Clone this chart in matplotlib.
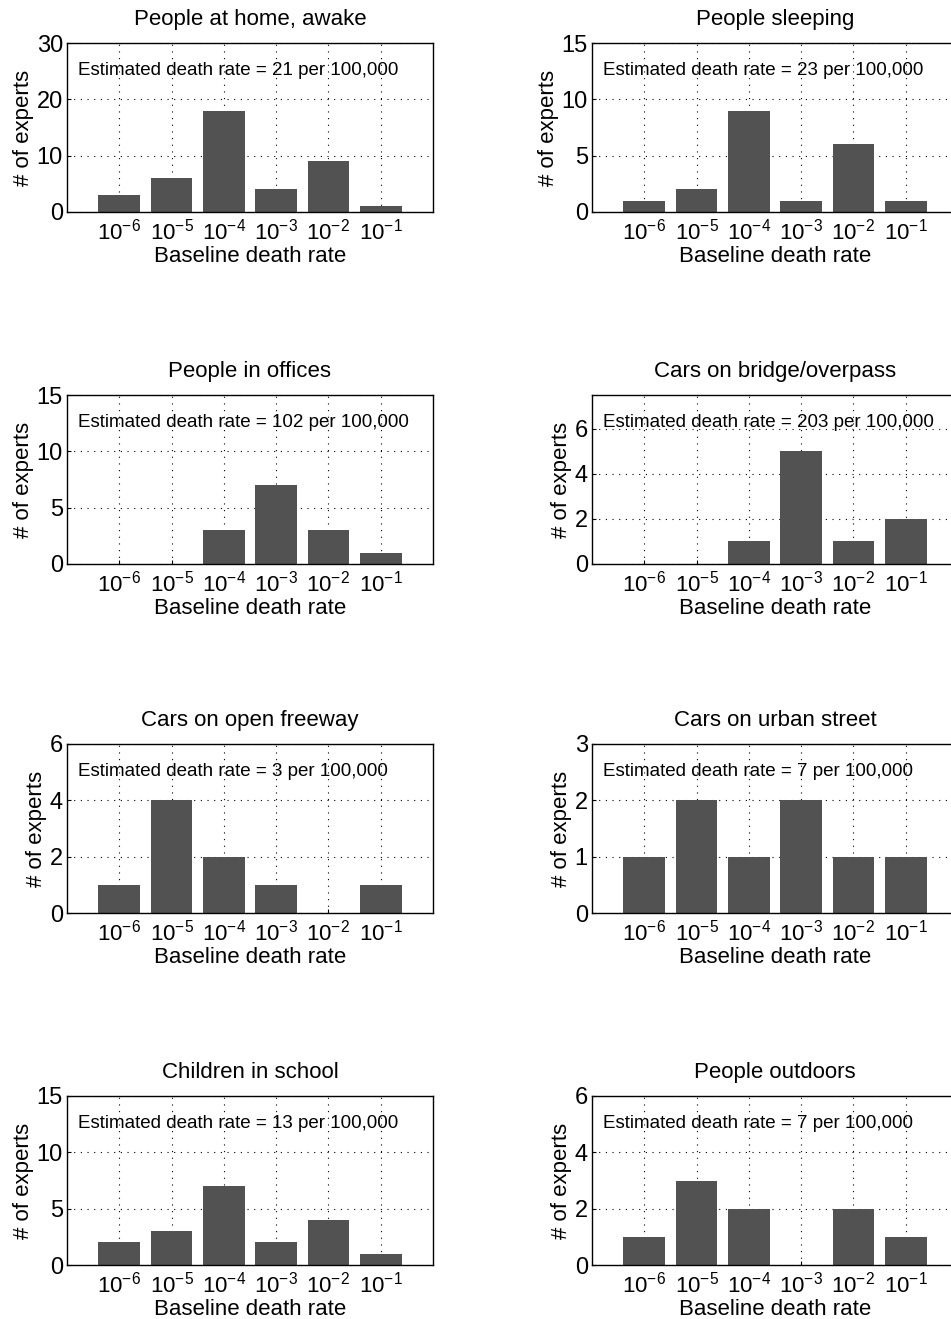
import matplotlib
matplotlib.use("Agg")
import matplotlib.pyplot as plt

plt.rcParams['font.family'] = ['Liberation Sans', 'DejaVu Sans']
plt.rcParams['mathtext.fontset'] = 'custom'
plt.rcParams['mathtext.rm'] = 'Liberation Sans'
plt.rcParams['mathtext.it'] = 'Liberation Sans:italic'
plt.rcParams['mathtext.bf'] = 'Liberation Sans:bold'

# data
titles = ["People at home, awake", "People sleeping",
          "People in offices", "Cars on bridge/overpass",
          "Cars on open freeway", "Cars on urban street",
          "Children in school", "People outdoors"]
rates = [21, 23, 102, 203, 3, 7, 13, 7]
home_awake = [3, 6, 18, 4, 9, 1]
sleeping = [1, 2, 9, 1, 6, 1]
offices = [0, 0, 3, 7, 3, 1]
bridge = [0, 0, 1, 5, 1, 2]
freeway = [1, 4, 2, 1, 0, 1]
urban = [1, 2, 1, 2, 1, 1]
school = [2, 3, 7, 2, 4, 1]
outdoors = [1, 3, 2, 0, 2, 1]
counts = [home_awake, sleeping, offices, bridge, freeway, urban, school, outdoors]
ymax = [30, 15, 15, 7.5, 6, 3, 15, 6]
yticks = [[0, 10, 20, 30], [0, 5, 10, 15], [0, 5, 10, 15], [0, 2, 4, 6],
          [0, 2, 4, 6], [0, 1, 2, 3], [0, 5, 10, 15], [0, 2, 4, 6]]
exponents = [-6, -5, -4, -3, -2, -1]
xlabels = [r"$\mathregular{10^{%d}}$" % e for e in exponents]

W, H = 951, 1319
fig = plt.figure(figsize=(W / 100, H / 100), dpi=100)

# axes boxes in pixels; right column runs past the edge like the scan
col_left = [67, 592]
ax_w = 366
row_top = [43, 395, 744, 1096]
ax_h = 169

xpos = list(range(1, len(exponents) + 1))
for i in range(8):
    r, c = divmod(i, 2)
    left = col_left[c] / W
    bottom = 1 - (row_top[r] + ax_h) / H
    ax = fig.add_axes([left, bottom, ax_w / W, ax_h / H])
    ax.bar(xpos, counts[i], width=0.8, color='#525252', zorder=3)
    ax.set_xlim(0, 7)
    ax.set_ylim(0, ymax[i])
    ax.set_xticks(xpos)
    ax.set_xticklabels(xlabels, fontsize=16)
    ax.set_yticks(yticks[i])
    ax.tick_params(axis='y', labelsize=17, pad=3)
    ax.tick_params(axis='x', pad=5)
    ax.tick_params(direction='in', length=3, width=0.8)
    ax.grid(True, color='black', linestyle=(0, (1, 5)), linewidth=0.8, zorder=0)
    ax.set_axisbelow(True)
    for s in ax.spines.values():
        s.set_linewidth(1.0)
        s.set_zorder(4)
    ax.set_title(titles[i], fontsize=16, pad=13)
    ax.set_xlabel("Baseline death rate", fontsize=16, labelpad=1)
    ax.set_ylabel("# of experts", fontsize=16, labelpad=2)
    ax.text(0.03, 0.84, "Estimated death rate = %d per 100,000" % rates[i],
            transform=ax.transAxes, fontsize=13.5, va='center', ha='left', zorder=5)

fig.savefig("out.png", dpi=100)
